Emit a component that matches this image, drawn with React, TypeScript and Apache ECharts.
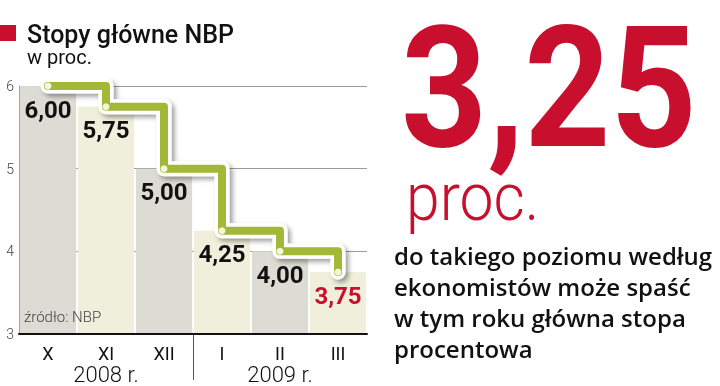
import { useEffect, useRef } from 'react';
import * as echarts from 'echarts';

const months = ['X', 'XI', 'XII', 'I', 'II', 'III'];
const years = ['2008 r.', '2009 r.'];
const rates = [6.0, 5.75, 5.0, 4.25, 4.0, 3.75];
const yMin = 3;
const yMax = 6;
const yStep = 1;
const title = 'Stopy główne NBP';
const unit = 'w proc.';
const source = 'źródło: NBP';
const bigValue = '3,25';
const bigUnit = 'proc.';
const note = ['do takiego poziomu według', 'ekonomistów może spaść', 'w tym roku główna stopa', 'procentowa'];

const RED = '#c8102e';
const GREEN = '#a3b836';
const GRAY_BAR = '#dcdcd4';
const YELLOW_BAR = '#efefdb';

const fmt = (v: number) => v.toFixed(2).replace('.', ',');

export default function App() {
  const ref = useRef<HTMLDivElement>(null);
  useEffect(() => {
    const chart = echarts.init(ref.current!, null, { renderer: 'svg' });
    const option: any = {
      animation: false,
      textStyle: { fontFamily: 'Roboto' },
      grid: { left: 19, right: 353, top: 86, bottom: 52 },
      xAxis: [
        {
          type: 'category',
          data: months,
          axisLine: { lineStyle: { color: '#111', width: 2 } },
          axisTick: { show: false },
          axisLabel: { fontSize: 18, color: '#111', margin: 10, fontWeight: 400, fontFamily: 'Roboto' },
          z: 5,
        },
        {
          type: 'category',
          data: years,
          position: 'bottom',
          axisLine: { show: false },
          axisTick: { show: false },
          axisLabel: { fontSize: 22, color: '#111', margin: 29, fontWeight: 300, fontFamily: 'Roboto' },
        },
      ],
      yAxis: {
        type: 'value',
        min: yMin,
        max: yMax,
        interval: yStep,
        axisLine: { show: true, lineStyle: { color: '#9a9a9a', width: 1 } },
        axisTick: { show: false },
        splitLine: { lineStyle: { color: '#9a9a9a', width: 1 } },
        axisLabel: { fontSize: 14, color: '#444', margin: 5, fontWeight: 300, fontFamily: 'Roboto' },
      },
      series: [
        {
          type: 'bar',
          data: rates.map((v, i) => ({ value: v, itemStyle: { color: i % 2 === 0 ? GRAY_BAR : YELLOW_BAR } })),
          barCategoryGap: '3%',
          z: 1,
          silent: true,
        },
        {
          type: 'line',
          step: 'end',
          data: rates,
          symbol: 'none',
          lineStyle: {
            color: '#ffffff',
            width: 15,
            cap: 'round',
            join: 'round',
            shadowColor: 'rgba(0,0,0,0.38)',
            shadowBlur: 5,
            shadowOffsetX: 3,
            shadowOffsetY: 3,
          },
          z: 3,
          silent: true,
        },
        {
          type: 'line',
          step: 'end',
          data: rates.map((v, i) => ({
            value: v,
            label: { color: i === rates.length - 1 ? RED : '#111' },
          })),
          symbol: 'circle',
          symbolSize: 7,
          itemStyle: { color: '#f4f5da' },
          lineStyle: { color: GREEN, width: 8, cap: 'round', join: 'round' },
          label: {
            show: true,
            position: 'bottom',
            distance: 8,
            formatter: (p: any) => fmt(p.value),
            fontSize: 24,
            fontWeight: 'bold',
            fontFamily: 'Roboto',
            color: '#111',
          },
          z: 4,
          silent: true,
        },
      ],
    };
    chart.setOption(option);

    const xa = chart.convertToPixel({ xAxisIndex: 0 }, months[2]) as number;
    const xb = chart.convertToPixel({ xAxisIndex: 0 }, months[3]) as number;
    const sepX = Math.round((xa + xb) / 2) + 0.5;
    const yBase = chart.convertToPixel({ yAxisIndex: 0 }, yMin) as number;
    const xLeft = chart.convertToPixel({ xAxisIndex: 0 }, months[0]) as number;

    chart.setOption({
      graphic: [
        { id: 'sep', type: 'line', shape: { x1: sepX, y1: yBase + 1, x2: sepX, y2: yBase + 46 }, style: { stroke: '#555', lineWidth: 1 }, z: 10 },
        { id: 'sq', type: 'rect', shape: { x: 0, y: 25, width: 16, height: 16 }, style: { fill: RED } },
        { id: 'title', type: 'text', x: 27, y: 34, style: { text: title, fontSize: 25, lineHeight: 22, fontWeight: 500, fontFamily: 'Roboto', fill: '#111', align: 'left', verticalAlign: 'middle' } },
        { id: 'unit', type: 'text', x: 27, y: 57, style: { text: unit, fontSize: 20, lineHeight: 18, fontWeight: 400, fontFamily: 'Roboto', fill: '#111', align: 'left', verticalAlign: 'middle' } },
        { id: 'src', type: 'text', x: xLeft - 24, y: yBase - 17, style: { text: source, fontSize: 15, fontWeight: 300, fontFamily: 'Roboto', fill: '#444', align: 'left', verticalAlign: 'middle' }, z: 10 },
        { id: 'big', type: 'text', x: 401, y: 88, scaleX: 0.97, scaleY: 1.09, style: { text: bigValue, fontSize: 155, fontWeight: 'bold', fontFamily: 'Roboto', fill: RED, align: 'left', verticalAlign: 'middle' } },
        { id: 'bigu', type: 'text', x: 406, y: 197, scaleX: 0.92, style: { text: bigUnit, fontSize: 66, fontWeight: 300, fontFamily: 'Roboto', fill: RED, align: 'left', verticalAlign: 'middle' } },
        { id: 'note', type: 'text', x: 394, y: 240, style: { text: note.join('\n'), fontSize: 24, lineHeight: 31, fontWeight: 600, fontFamily: 'Open Sans', fill: '#111', align: 'left', verticalAlign: 'top' } },
      ],
    });
    return () => chart.dispose();
  }, []);
  return <div ref={ref} style={{ position: 'fixed', left: 0, top: 0, width: 720, height: 386 }} />;
}
